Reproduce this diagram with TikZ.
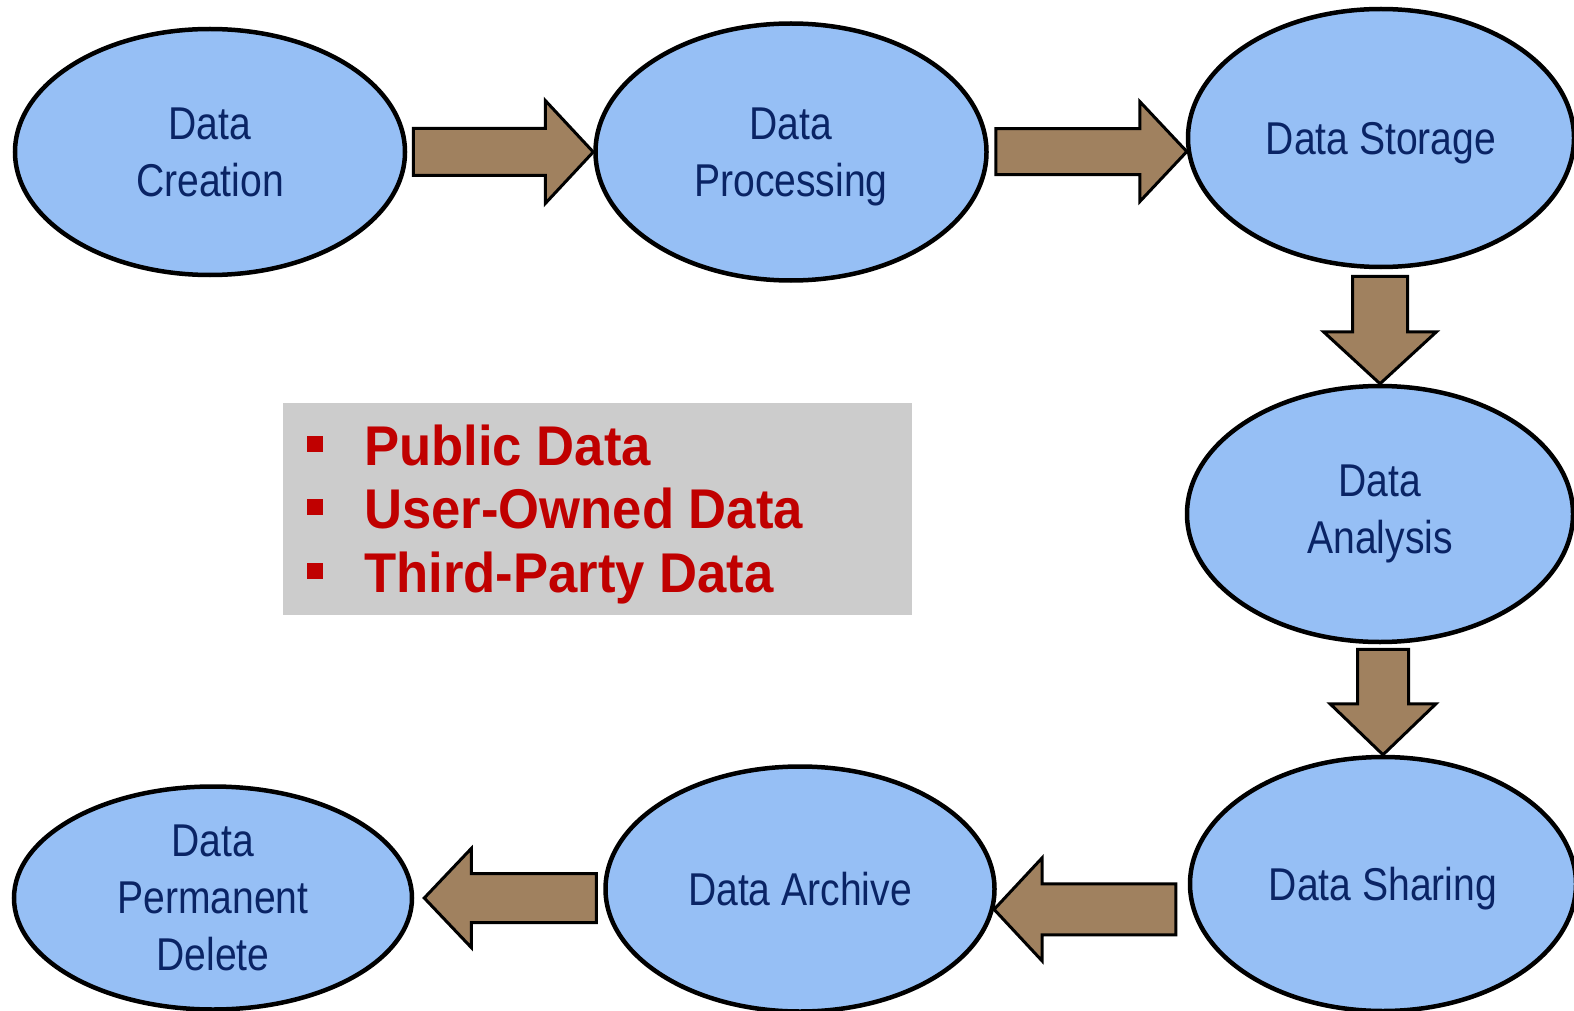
\documentclass[tikz,border=0pt]{standalone}
\usepackage{fontspec}
\setmainfont{Liberation Sans}
\newfontfamily\narrowfont[FakeStretch=0.85]{Liberation Sans}
\newfontfamily\listfont[FakeStretch=0.94]{Liberation Sans}
\usetikzlibrary{shapes.geometric,calc}

\definecolor{ellfill}{HTML}{96BFF5}
\definecolor{ellink}{HTML}{0A2465}
\definecolor{arrfill}{HTML}{A0815F}
\definecolor{listred}{HTML}{C00000}
\definecolor{boxgray}{HTML}{CCCCCC}

% a line set without depth, so that descenders do not shift the centring
\newcommand{\nodepth}[1]{\raisebox{0pt}[\height][0pt]{#1}}

\begin{document}
\begin{tikzpicture}[x=1pt,y=-1pt,
  stage/.style={ellipse, draw=black, line width=4.5pt, fill=ellfill,
    inner sep=0pt, text=ellink, align=center,
    font=\narrowfont\fontsize{46}{57}\selectfont},
  flowarrow/.style={draw=black, line width=3pt, fill=arrfill, line join=miter},
  listitem/.style={anchor=base west, inner sep=0pt, text=listred,
    font=\listfont\bfseries\fontsize{56}{64}\selectfont},
  bulletsq/.style={rectangle, fill=listred, inner sep=0pt,
    minimum width=16pt, minimum height=16pt},
]
\useasboundingbox (0,0) rectangle (1574,1011);

% lifecycle stages
\node[stage, minimum width=390pt, minimum height=246pt] (c1) at (210,152) {Data\\Creation};
\node[stage, minimum width=391pt, minimum height=257pt] (c2) at (791,152) {Data\\\nodepth{Processing}};
\node[stage, minimum width=386pt, minimum height=258pt] (c3) at (1381,138) {\nodepth{Data Storage}};
\node[stage, minimum width=386pt, minimum height=256pt] (c4) at (1380,514) {Data\\Analysis};
\node[stage, minimum width=386pt, minimum height=254pt] (c5) at (1383,884) {\nodepth{Data Sharing}};
\node[stage, minimum width=389pt, minimum height=245pt] (c6) at (800,889) {Data Archive};
\node[stage, minimum width=398pt, minimum height=223pt] (c7) at (213,898) {Data\\Permanent\\Delete};

% block arrows between the stages
\draw[flowarrow] let \p1=([xshift=6pt]c1.east), \p2=(c2.west) in
  (\x1,\y2+23.5pt) -- (\x2-48pt,\y2+23.5pt) -- (\x2-48pt,\y2+51.5pt) -- (\p2)
  -- (\x2-48pt,\y2-51.5pt) -- (\x2-48pt,\y2-23.5pt) -- (\x1,\y2-23.5pt) -- cycle;
\draw[flowarrow] let \p1=([xshift=7pt]c2.east), \p2=(c3.184) in
  (\x1,\y2+23pt) -- (\x2-47pt,\y2+23pt) -- (\x2-47pt,\y2+50pt) -- (\p2)
  -- (\x2-47pt,\y2-50pt) -- (\x2-47pt,\y2-23pt) -- (\x1,\y2-23pt) -- cycle;
\draw[flowarrow] let \p1=([yshift=-7pt]c3.south), \p2=(c4.north) in
  (\x2-27.5pt,\y1) -- (\x2-27.5pt,\y2+52pt) -- (\x2-56.5pt,\y2+52pt) -- (\p2)
  -- (\x2+56.5pt,\y2+52pt) -- (\x2+27.5pt,\y2+52pt) -- (\x2+27.5pt,\y1) -- cycle;
\draw[flowarrow] let \p1=([yshift=-5pt]c4.south), \p2=(c5.north) in
  (\x2-25.5pt,\y1) -- (\x2-25.5pt,\y2+51pt) -- (\x2-53pt,\y2+51pt) -- (\p2)
  -- (\x2+53pt,\y2+51pt) -- (\x2+25.5pt,\y2+51pt) -- (\x2+25.5pt,\y1) -- cycle;
\draw[flowarrow] let \p1=([xshift=-12pt]c5.west), \p2=(c6.354) in
  (\x1,\y2+25.5pt) -- (\x2+48pt,\y2+25.5pt) -- (\x2+48pt,\y2+51.5pt) -- (\p2)
  -- (\x2+48pt,\y2-51.5pt) -- (\x2+48pt,\y2-25.5pt) -- (\x1,\y2-25.5pt) -- cycle;
\draw[flowarrow] let \p1=([xshift=-7pt]c6.west), \p2=([xshift=10pt]c7.east) in
  (\x1,\y2+24.5pt) -- (\x2+47pt,\y2+24.5pt) -- (\x2+47pt,\y2+49.5pt) -- (\p2)
  -- (\x2+47pt,\y2-49.5pt) -- (\x2+47pt,\y2-24.5pt) -- (\x1,\y2-24.5pt) -- cycle;

% data categories
\node[rectangle, fill=boxgray, inner sep=0pt, minimum width=629pt,
  minimum height=212pt] (legend) at (597.5,509) {};
\node[bulletsq] (s1) at (315,444) {};
\node[bulletsq] (s2) at (315,507) {};
\node[bulletsq] (s3) at (315,571) {};
\node[listitem] (l1) at (364,465) {Public Data};
\node[listitem] (l2) at (364,528) {User-Owned Data};
\node[listitem] (l3) at (364,592) {Third-Party Data};
\end{tikzpicture}
\end{document}
